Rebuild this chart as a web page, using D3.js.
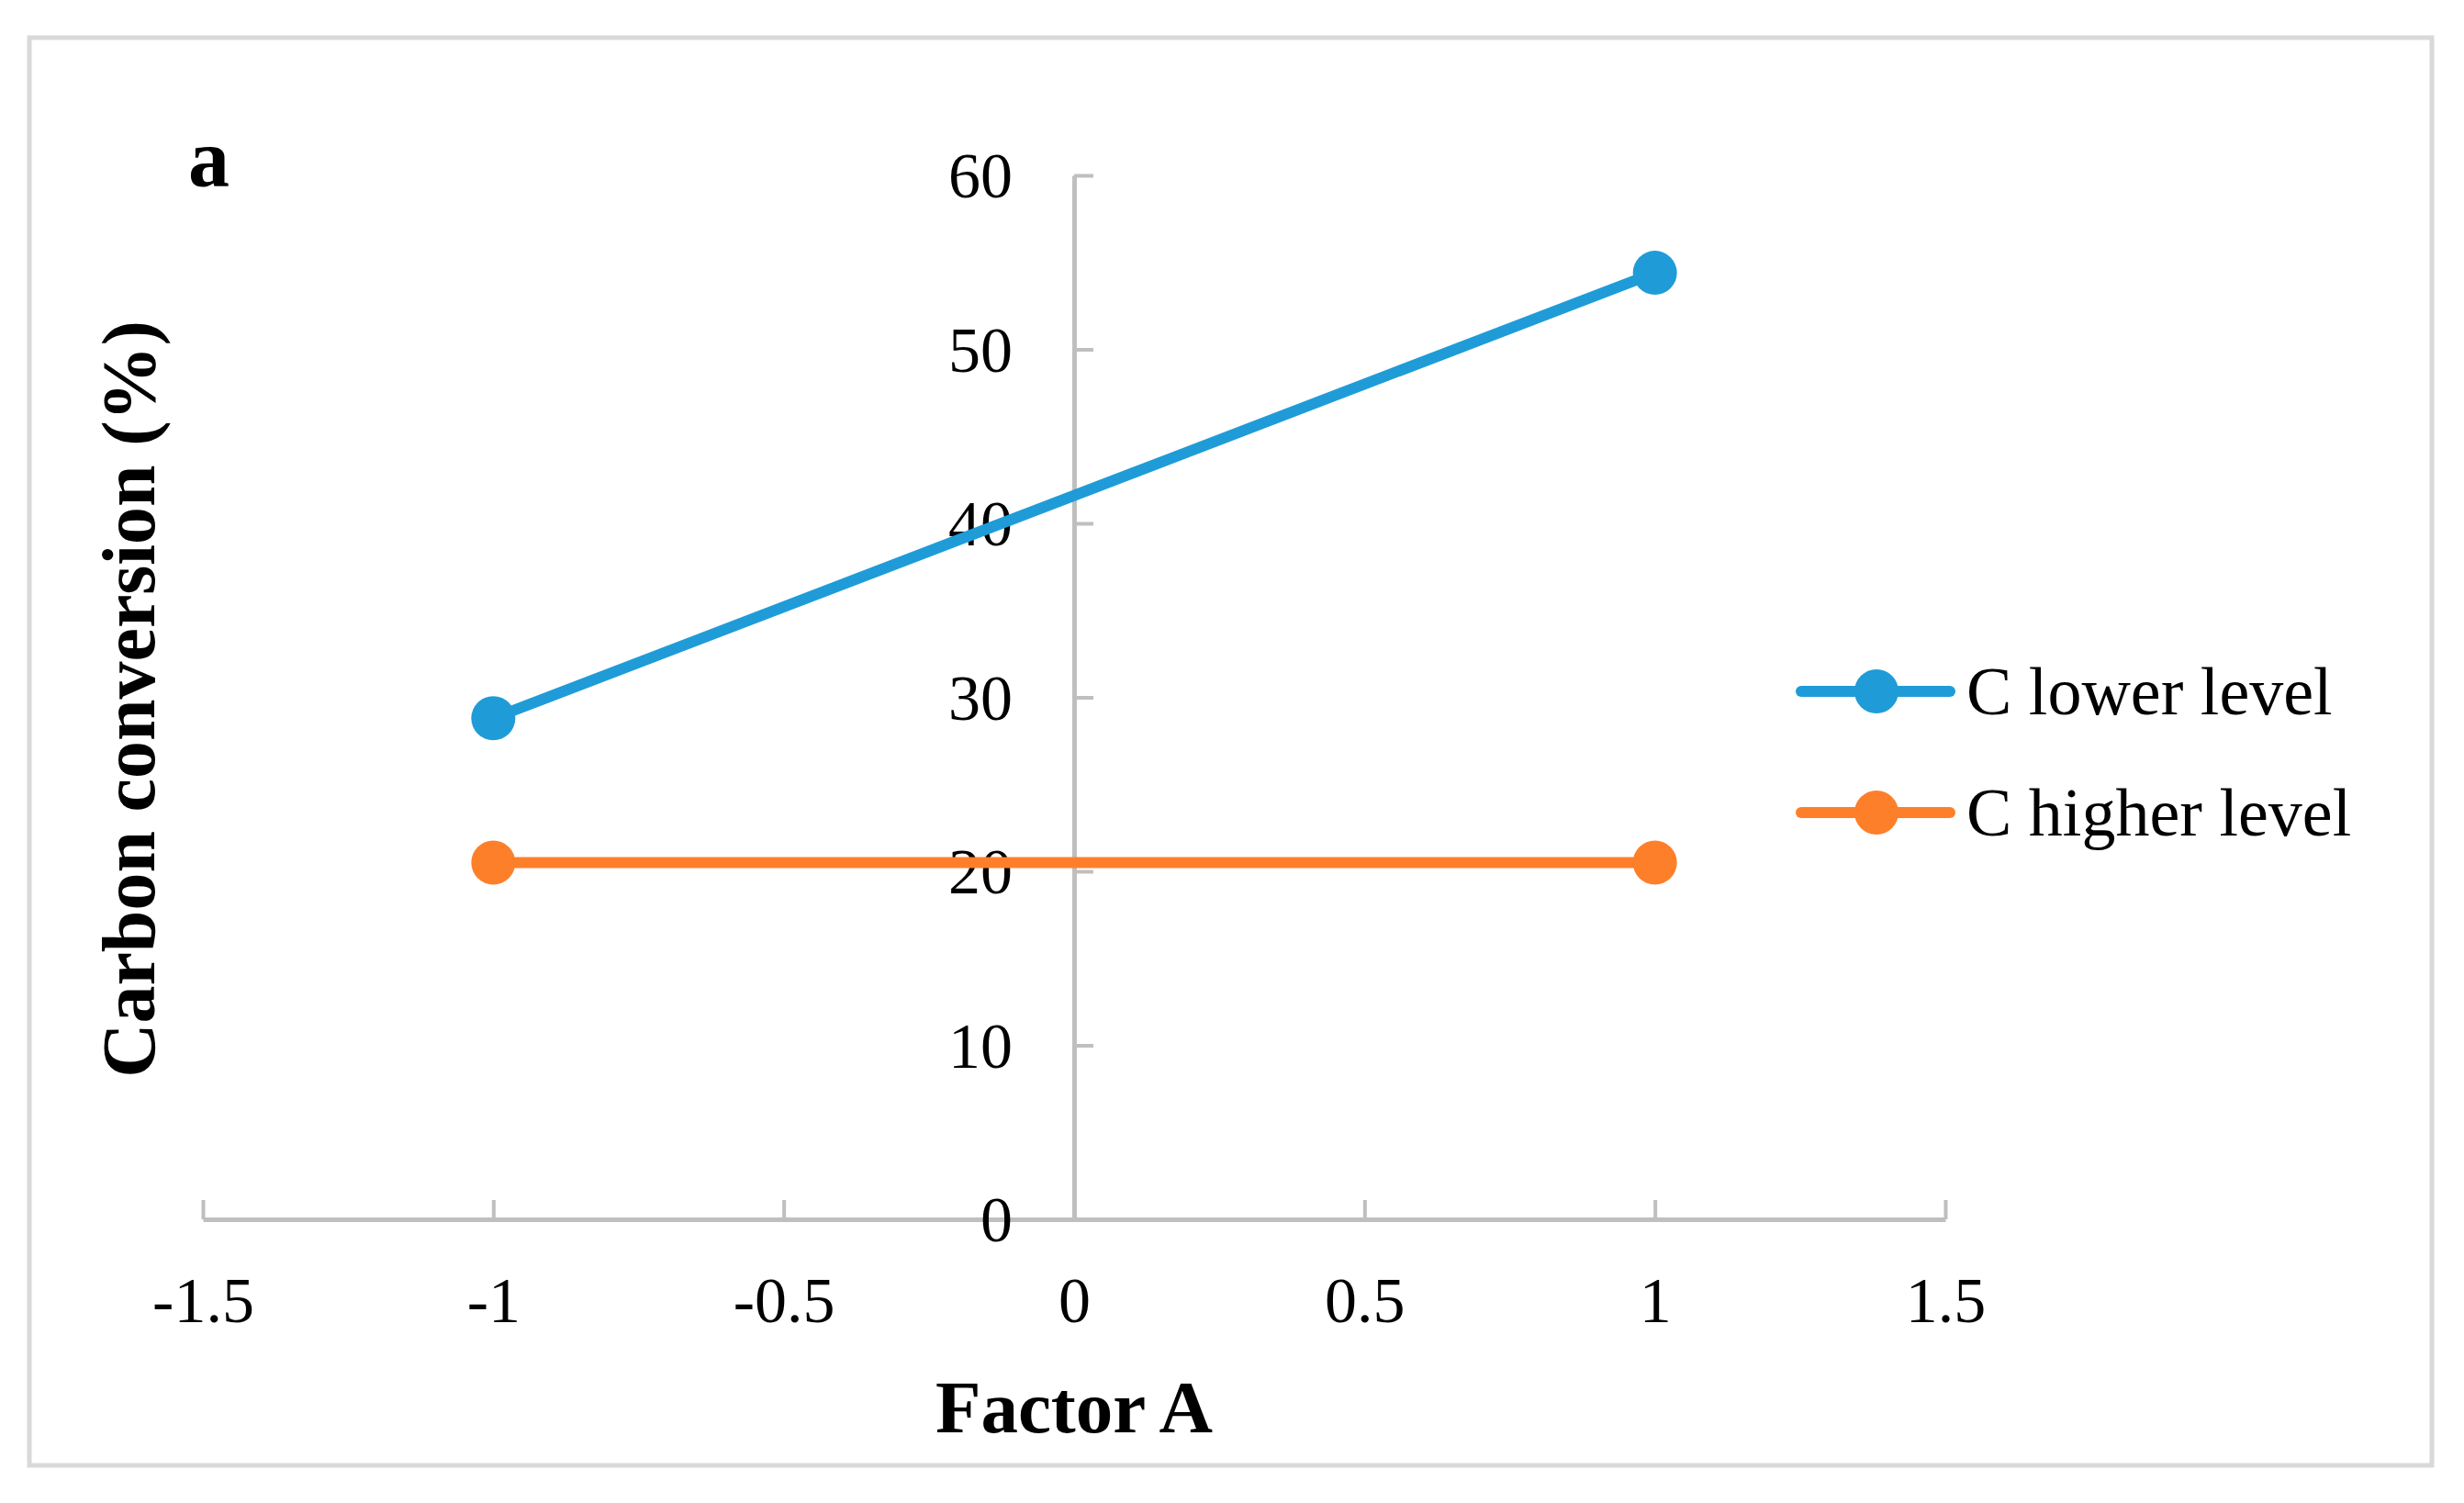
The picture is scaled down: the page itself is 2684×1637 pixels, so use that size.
<!DOCTYPE html>
<html>
<head>
<meta charset="utf-8">
<script src="https://cdn.jsdelivr.net/npm/d3@7"></script>
<style>
  html, body { margin: 0; padding: 0; background: #fff; }
  svg { display: block; }
  text { font-family: "Liberation Serif", "Times New Roman", serif; fill: #000; }
</style>
</head>
<body>
<script>
// ---- data ----
const factorA = [-1, 1];
const seriesNames = ["C lower level", "C higher level"];
const cLower = [28.8, 54.4];
const cHigher = [20.5, 20.5];
const seriesColors = ["#1f9cd8", "#fe7f2a"];
const xTicks = [-1.5, -1, -0.5, 0, 0.5, 1, 1.5];
const yTicks = [0, 10, 20, 30, 40, 50, 60];
const xLabel = "Factor A";
const yLabel = "Carbon conversion (%)";
const panelLabel = "a";

const W = 2684, H = 1637;
const svg = d3.select("body").append("svg").attr("width", W).attr("height", H);

// outer frame
svg.append("rect").attr("x", 32).attr("y", 41).attr("width", 2617).attr("height", 1555)
  .attr("fill", "#fff").attr("stroke", "#d9d9d9").attr("stroke-width", 5);

const x = d3.scaleLinear().domain([-1.5, 1.5]).range([221, 2119]);
const y = d3.scaleLinear().domain([0, 60]).range([1328, 191]);
const axisColor = "#bfbfbf";

// x axis (ticks upward, labels below)
const gx = svg.append("g").attr("transform", `translate(0,${y(0)})`)
  .call(d3.axisTop(x).tickValues(xTicks).tickSizeInner(21).tickSizeOuter(0).tickFormat(d => String(d)));
gx.select(".domain").attr("stroke", axisColor).attr("stroke-width", 5);
gx.selectAll(".tick line").attr("stroke", axisColor).attr("stroke-width", 4);
gx.selectAll(".tick text").attr("y", 112).attr("dy", 0)
  .attr("font-size", 70).attr("font-family", "Liberation Serif").attr("fill", "#000");

// y axis (ticks right, labels left)
const gy = svg.append("g").attr("transform", `translate(${x(0)},0)`)
  .call(d3.axisRight(y).tickValues(yTicks).tickSizeInner(21).tickSizeOuter(0).tickFormat(d => String(d)));
gy.select(".domain").attr("stroke", axisColor).attr("stroke-width", 5);
gy.selectAll(".tick line").attr("stroke", axisColor).attr("stroke-width", 4);
gy.selectAll(".tick text").attr("x", -67).attr("dy", "0.34em").attr("text-anchor", "end")
  .attr("font-size", 70).attr("font-family", "Liberation Serif").attr("fill", "#000");

// lines
const series = [cLower, cHigher];
const line = d3.line().x((d, i) => x(factorA[i])).y(d => y(d));
series.forEach((vals, si) => {
  svg.append("path").datum(vals).attr("d", line).attr("fill", "none")
    .attr("stroke", seriesColors[si]).attr("stroke-width", 12).attr("stroke-linecap", "round");
  svg.selectAll(null).data(vals).enter().append("circle")
    .attr("cx", (d, i) => x(factorA[i])).attr("cy", d => y(d)).attr("r", 24)
    .attr("fill", seriesColors[si]);
});

// titles
svg.append("text").attr("x", x(0)).attr("y", 1560).attr("text-anchor", "middle")
  .attr("font-size", 81).attr("font-weight", "bold").text(xLabel);
svg.append("text").attr("transform", `translate(168,${(342 + 1181) / 2}) rotate(-90)`)
  .attr("text-anchor", "middle").attr("font-size", 82).attr("font-weight", "bold").text(yLabel);
svg.append("text").attr("x", 205).attr("y", 203).attr("font-size", 90)
  .attr("font-weight", "bold").text(panelLabel);

// legend
const legY = [753, 885];
seriesNames.forEach((name, i) => {
  const g = svg.append("g");
  g.append("line").attr("x1", 1962).attr("x2", 2124).attr("y1", legY[i]).attr("y2", legY[i])
    .attr("stroke", seriesColors[i]).attr("stroke-width", 12).attr("stroke-linecap", "round");
  g.append("circle").attr("cx", 2044).attr("cy", legY[i]).attr("r", 24).attr("fill", seriesColors[i]);
  g.append("text").attr("x", 2142).attr("y", legY[i] + 25).attr("font-size", 74).text(name);
});
</script>
</body>
</html>
